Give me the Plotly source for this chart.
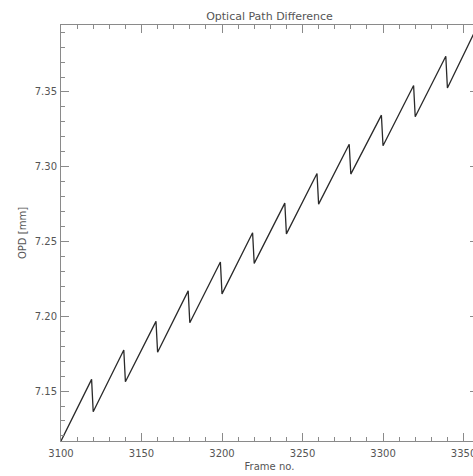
import plotly.graph_objects as go

# Sawtooth vertices of the optical path difference trace (frame number, OPD in mm)
frames = [3100, 3119, 3120, 3139, 3140, 3159, 3160, 3179, 3180, 3199, 3200,
          3219, 3220, 3239, 3240, 3259, 3260, 3279, 3280, 3299, 3300,
          3319, 3320, 3339, 3340, 3359]
opd_mm = [7.1166, 7.1578, 7.1362, 7.1774, 7.1562, 7.1966, 7.1760, 7.2170, 7.1957,
          7.2363, 7.2150, 7.2559, 7.2354, 7.2757, 7.2551, 7.2955, 7.2750,
          7.3151, 7.2951, 7.3345, 7.3140, 7.3543, 7.3334, 7.3739, 7.3527, 7.3948]

x_range = [3100, 3359]
y_range = [7.1166, 7.3948]

axis_col = "#8a8a8a"
text_col = "#555555"
font_family = "DejaVu Sans"

fig = go.Figure()
fig.add_trace(go.Scatter(
    x=frames, y=opd_mm, mode="lines",
    line=dict(color="#2a2a2a", width=1.3),
    hoverinfo="skip", showlegend=False,
))

common = dict(
    showgrid=False, zeroline=False, automargin=False,
    showline=True, linecolor=axis_col, linewidth=1,
    mirror="allticks", ticks="inside", ticklen=8, tickwidth=1, tickcolor=axis_col,
    tickfont=dict(family=font_family, size=10, color=text_col),
)

fig.update_xaxes(
    range=x_range, dtick=50, tick0=3100, ticklabelstandoff=3,
    minor=dict(ticks="inside", ticklen=4, dtick=10, tickcolor=axis_col, showgrid=False),
    title=dict(text="Frame no.", font=dict(family=font_family, size=10, color=text_col), standoff=4),
    **common,
)
fig.update_yaxes(
    range=y_range, dtick=0.05, tick0=7.0, tickformat=".2f", ticklabelstandoff=1,
    minor=dict(ticks="inside", ticklen=4, dtick=0.01, tickcolor=axis_col, showgrid=False),
    title=dict(text="OPD [mm]", font=dict(family=font_family, size=10, color=text_col), standoff=6),
    **common,
)

fig.update_layout(
    width=490, height=476,
    margin=dict(l=61, r=12, t=25, b=35),
    paper_bgcolor="white", plot_bgcolor="white",
    title=dict(text="Optical Path Difference", x=0.5, xanchor="center",
               xref="paper", y=0.967, yanchor="middle",
               font=dict(family=font_family, size=11, color=text_col)),
)

fig.write_html("out.html", post_script="document.body.style.overflow='hidden';")
